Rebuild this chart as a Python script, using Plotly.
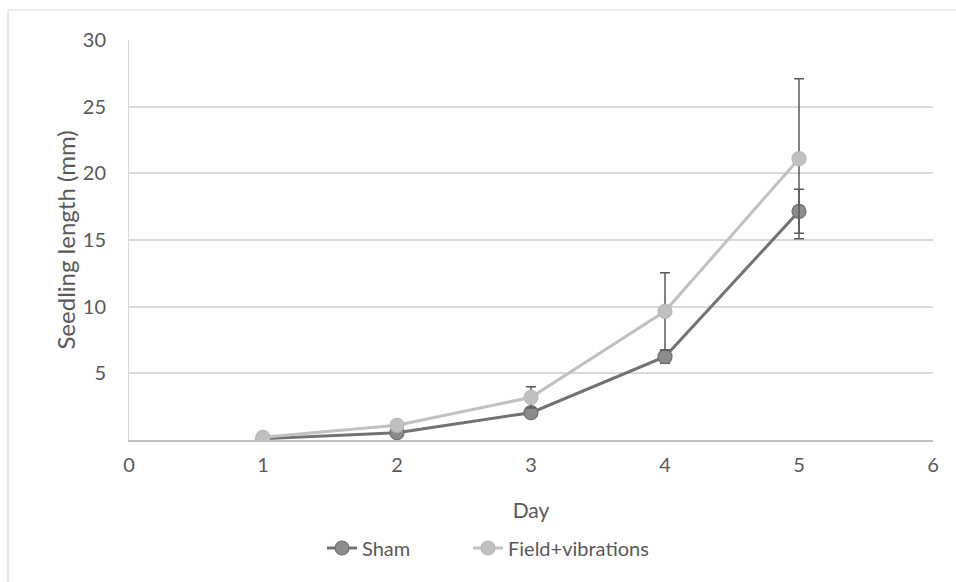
import plotly.graph_objects as go

days = [1, 2, 3, 4, 5]
sham = [0.1, 0.55, 2.05, 6.25, 17.15]
sham_err = [0.05, 0.2, 0.3, 0.5, 1.65]
field = [0.2, 1.1, 3.2, 9.65, 21.1]
field_err = [0.1, 0.3, 0.8, 2.9, 6.0]
x_ticks = [0, 1, 2, 3, 4, 5, 6]
y_ticks = [5, 10, 15, 20, 25, 30]

W, H = 956, 582
L, R, T, B = 129, 933, 40, 440

fig = go.Figure()
fig.add_trace(go.Scatter(
    x=days, y=sham, name="Sham", mode="lines+markers", legend="legend",
    line=dict(color="#767171", width=3),
    marker=dict(size=14, color="#8c8c8c", line=dict(color="#6e6e6e", width=1.2)),
    error_y=dict(type="data", array=sham_err, color="#595959", thickness=1.5, width=5),
))
fig.add_trace(go.Scatter(
    x=days, y=field, name="Field+vibrations", mode="lines+markers", legend="legend2",
    line=dict(color="#c0c0c0", width=3),
    marker=dict(size=14, color="#c0c0c0", line=dict(color="#b8b8b8", width=1.2)),
    error_y=dict(type="data", array=field_err, color="#595959", thickness=1.5, width=5),
))

font_fam = "Lato, 'Open Sans', sans-serif"
pw, ph = R - L, B - T
fig.add_shape(type="rect", xref="paper", yref="paper",
              x0=(8 - L) / pw, x1=(W + 20 - L) / pw,
              y0=(B - (H + 20)) / ph, y1=1 + (T - 10) / ph,
              line=dict(color="#d9d9d9", width=1.2), fillcolor="rgba(0,0,0,0)", layer="below")

leg_common = dict(orientation="h", xanchor="left", y=(B - 548) / ph, yanchor="middle",
                  font=dict(size=20, color="#595959"), bgcolor="rgba(0,0,0,0)")

fig.update_layout(
    width=W, height=H,
    margin=dict(l=L, r=W - R, t=T, b=H - B),
    paper_bgcolor="white", plot_bgcolor="white",
    font=dict(family=font_fam, color="#595959", size=20),
    xaxis=dict(range=[0, 6], tickvals=x_ticks, ticktext=[str(v) for v in x_ticks],
               showgrid=False, zeroline=False, showline=True, linecolor="#bfbfbf", linewidth=1.5,
               ticks="outside", ticklen=6, tickcolor="rgba(0,0,0,0)",
               title=dict(text="Day", font=dict(size=21, color="#595959"), standoff=29),
               tickfont=dict(size=20, color="#595959")),
    yaxis=dict(range=[0, 30], tickvals=y_ticks, ticktext=[str(v) for v in y_ticks],
               showgrid=True, gridcolor="#d9d9d9", gridwidth=1.5, zeroline=False,
               showline=True, linecolor="#d9d9d9", linewidth=1,
               ticks="outside", ticklen=18, tickcolor="rgba(0,0,0,0)",
               title=dict(text="Seedling length (mm)", font=dict(size=24, color="#595959"), standoff=0),
               tickfont=dict(size=20, color="#595959")),
    legend=dict(x=(322 - L) / pw, **leg_common),
    legend2=dict(x=(468 - L) / pw, **leg_common),
    showlegend=True,
)

fig.write_html("out.html")
